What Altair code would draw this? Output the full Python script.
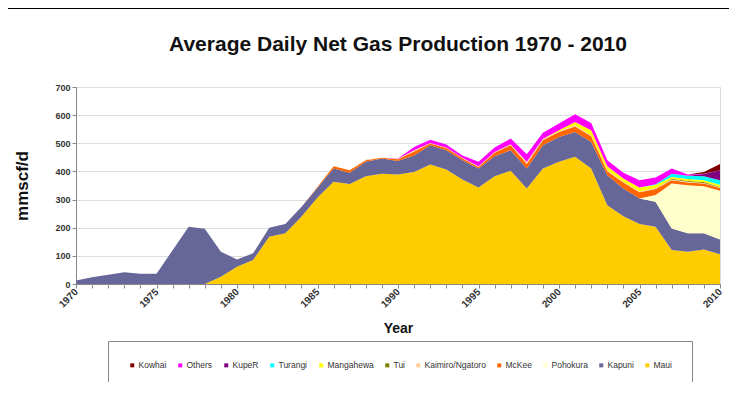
import altair as alt
import pandas as pd

years = list(range(1970, 2011))

series_names = ["Kowhai", "Others", "KupeR", "Turangi", "Mangahewa", "Tui",
                "Kaimiro/Ngatoro", "McKee", "Pohokura", "Kapuni", "Maui"]
series_colors = ["#800000", "#FF00FF", "#800080", "#00FFFF", "#FFFF00", "#808000",
                 "#FFCC99", "#FF6600", "#FFFFCC", "#666699", "#FFCC00"]

def pad(first_year, vals):
    return [0] * (first_year - 1970) + vals

maui = [0, 0, 0, 0, 0, 0, 0, 0, 0, 26, 61, 85, 168, 180, 239, 307, 363, 355, 383, 392,
        389, 398, 425, 407, 371, 343, 383, 402, 339, 410, 434, 452, 410, 280, 241, 213,
        203, 121, 115, 123, 106]
kapuni = [12, 24, 33, 42, 36, 36, 120, 203, 196, 89, 26, 24, 32, 33, 35, 35, 47, 40, 51, 54,
          48, 59, 68, 68, 69, 67, 71, 73, 71, 83, 88, 88, 95, 106, 98, 91, 89, 76, 65, 57, 52]
pohokura = pad(2006, [24, 160, 171, 167, 173])
mckee = pad(1985, [3, 8, 9, 6, 3, 6, 14, 6, 8, 7, 6, 12, 18, 16, 18, 18, 20, 20, 15, 22, 22,
                   22, 12, 10, 10, 10])
kaimiro = pad(1988, [2, 0, 2, 4, 2, 2, 2, 2, 3, 4, 8, 5, 3, 4, 3, 3, 2, 3, 2, 2, 2, 2, 2])
tui = pad(2007, [3, 3, 3, 2])
mangahewa = pad(2000, [3, 12, 18, 14, 12, 14, 12, 6, 7, 7, 8])
turangi = pad(2006, [2, 12, 12, 14, 16])
kuper = pad(2009, [8, 35])
others = pad(1990, [1, 12, 12, 11, 8, 16, 16, 20, 27, 21, 24, 27, 26, 22, 20, 26, 24, 18, 4,
                    1, 0])
kowhai = pad(2009, [6, 22])

values = {
    "Maui": maui, "Kapuni": kapuni, "Pohokura": pohokura, "McKee": mckee,
    "Kaimiro/Ngatoro": kaimiro, "Tui": tui, "Mangahewa": mangahewa,
    "Turangi": turangi, "KupeR": kuper, "Others": others, "Kowhai": kowhai,
}
stack_order = ["Maui", "Kapuni", "Pohokura", "McKee", "Kaimiro/Ngatoro", "Tui",
               "Mangahewa", "Turangi", "KupeR", "Others", "Kowhai"]

rows = []
for i, name in enumerate(stack_order):
    vals = values[name]
    for y, v in zip(years, vals):
        rows.append({"Year": y, "Field": name, "Value": v, "ord": i})
df = pd.DataFrame(rows)

FONT = "Liberation Sans Narrow, Arial Narrow, Liberation Sans, Arial"

area = alt.Chart(df).mark_area(interpolate="linear").encode(
    x=alt.X("Year:Q", scale=alt.Scale(domain=[1970, 2010], nice=False, zero=False),
            axis=alt.Axis(values=years, format="d", title="Year",
                          labelExpr="datum.value % 5 == 0 ? datum.label : ''",
                          labelAngle=315, labelAlign="right", labelBaseline="middle",
                          labelOverlap=False, labelFlush=False,
                          labelFontSize=10, labelFontWeight="bold", labelColor="#333",
                          labelFont=FONT, labelPadding=2,
                          tickSize=4, tickColor="#888", domainColor="#888",
                          titleFont=FONT, titleFontSize=14, titleFontWeight="bold",
                          titleColor="#111", titlePadding=12, grid=False)),
    y=alt.Y("Value:Q", stack="zero", scale=alt.Scale(domain=[0, 700], nice=False),
            axis=alt.Axis(values=[0, 100, 200, 300, 400, 500, 600, 700], title="mmscf/d",
                          labelFontSize=9, labelFontWeight="bold", labelColor="#333",
                          labelFont=FONT, tickSize=4, tickColor="#888", domainColor="#888",
                          gridColor="#dddddd", titleFont=FONT, titleFontSize=17,
                          titleFontWeight="bold", titleColor="#111", titlePadding=23)),
    color=alt.Color("Field:N", scale=alt.Scale(domain=series_names, range=series_colors),
                    legend=alt.Legend(title=None, orient="none", legendX=32, legendY=254,
                                      direction="horizontal", columns=11,
                                      symbolType="square", symbolSize=16,
                                      symbolStrokeWidth=0, labelFontSize=8.5,
                                      labelFont=FONT, labelColor="#333", labelOffset=2,
                                      columnPadding=9, padding=20,
                                      strokeColor="#888", fillColor="white")),
    order=alt.Order("ord:Q", sort="ascending"),
)

frame_left = alt.Chart(df).mark_rule(color="black", strokeWidth=2, clip=False).encode(
    x=alt.value(-70), y=alt.value(-79), y2=alt.value(311))
frame_top = alt.Chart(df).mark_rule(color="black", strokeWidth=2, clip=False).encode(
    x=alt.value(-70), x2=alt.value(661), y=alt.value(-79))
frame_bottom = alt.Chart(df).mark_rule(color="black", strokeWidth=2, clip=False).encode(
    x=alt.value(-70), x2=alt.value(661), y=alt.value(311))

chart = alt.layer(area, frame_left, frame_top, frame_bottom).properties(
    width=644, height=197,
    title=alt.TitleParams("Average Daily Net Gas Production 1970 - 2010", font=FONT,
                          fontSize=21, fontWeight="bold", color="#111",
                          anchor="middle", frame="group", offset=-48),
    autosize=alt.AutoSizeParams(type="none"),
    padding={"left": 68, "top": 79, "right": 9, "bottom": 98},
).configure_view(stroke="#cccccc").configure(background="white")

chart.save("out.html", embed_options={"renderer": "svg", "actions": False})
